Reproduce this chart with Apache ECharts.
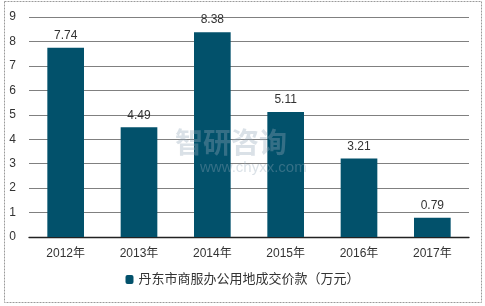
<!DOCTYPE html>
<html><head><meta charset="utf-8">
<script src="https://cdn.jsdelivr.net/npm/echarts@6/dist/echarts.min.js"></script>
<style>html,body{margin:0;padding:0;background:#fff}#c{width:485px;height:306px}</style>
</head><body><div id="c"></div>
<script>
var categories = ['2012年','2013年','2014年','2015年','2016年','2017年'];
var values = [7.74, 4.49, 8.38, 5.11, 3.21, 0.79];
var seriesName = '丹东市商服办公用地成交价款（万元）';
var chart = echarts.init(document.getElementById('c'), null, {renderer:'canvas'});
chart.setOption({
  animation:false,
  textStyle:{fontFamily:'"Liberation Sans", Arial, "Noto Sans CJK SC", sans-serif'},
  graphic:[
    {type:'rect', shape:{x:4.5,y:1.5,width:477,height:301}, style:{fill:null, stroke:'#9a9a9a', lineWidth:1, lineDash:[2,1]}, silent:true},
    {type:'text', left:175, top:128, z:100, style:{text:'智研咨询', fill:'rgba(150,170,185,0.35)', font:'bold 28px "Noto Sans CJK SC"'}},
    {type:'text', left:200, top:160, z:100, style:{text:'www.chyxx.com', fill:'rgba(150,170,185,0.35)', font:'15px "Liberation Sans"'}}
  ],
  grid:{left:29, right:16, top:17, bottom:69},
  xAxis:{type:'category', data:categories,
    axisLine:{lineStyle:{color:'#222', width:1.3}}, axisTick:{show:false},
    axisLabel:{color:'#333', fontSize:12, margin:11}},
  yAxis:{type:'value', min:0, max:9, interval:1,
    axisLine:{show:false}, axisTick:{show:false},
    splitLine:{lineStyle:{color:'#808080', width:1}},
    axisLabel:{color:'#333', fontSize:12, margin:13}},
  legend:{bottom:15, left:'center', itemWidth:8, itemHeight:9, itemGap:4,
    textStyle:{color:'#333', fontSize:13}, data:[seriesName]},
  series:[{type:'bar', name:seriesName, data:values, barWidth:'50%',
    itemStyle:{color:'#02516b'},
    label:{show:true, position:'top', color:'#333', fontSize:12, distance:6}}]
});
</script></body></html>
